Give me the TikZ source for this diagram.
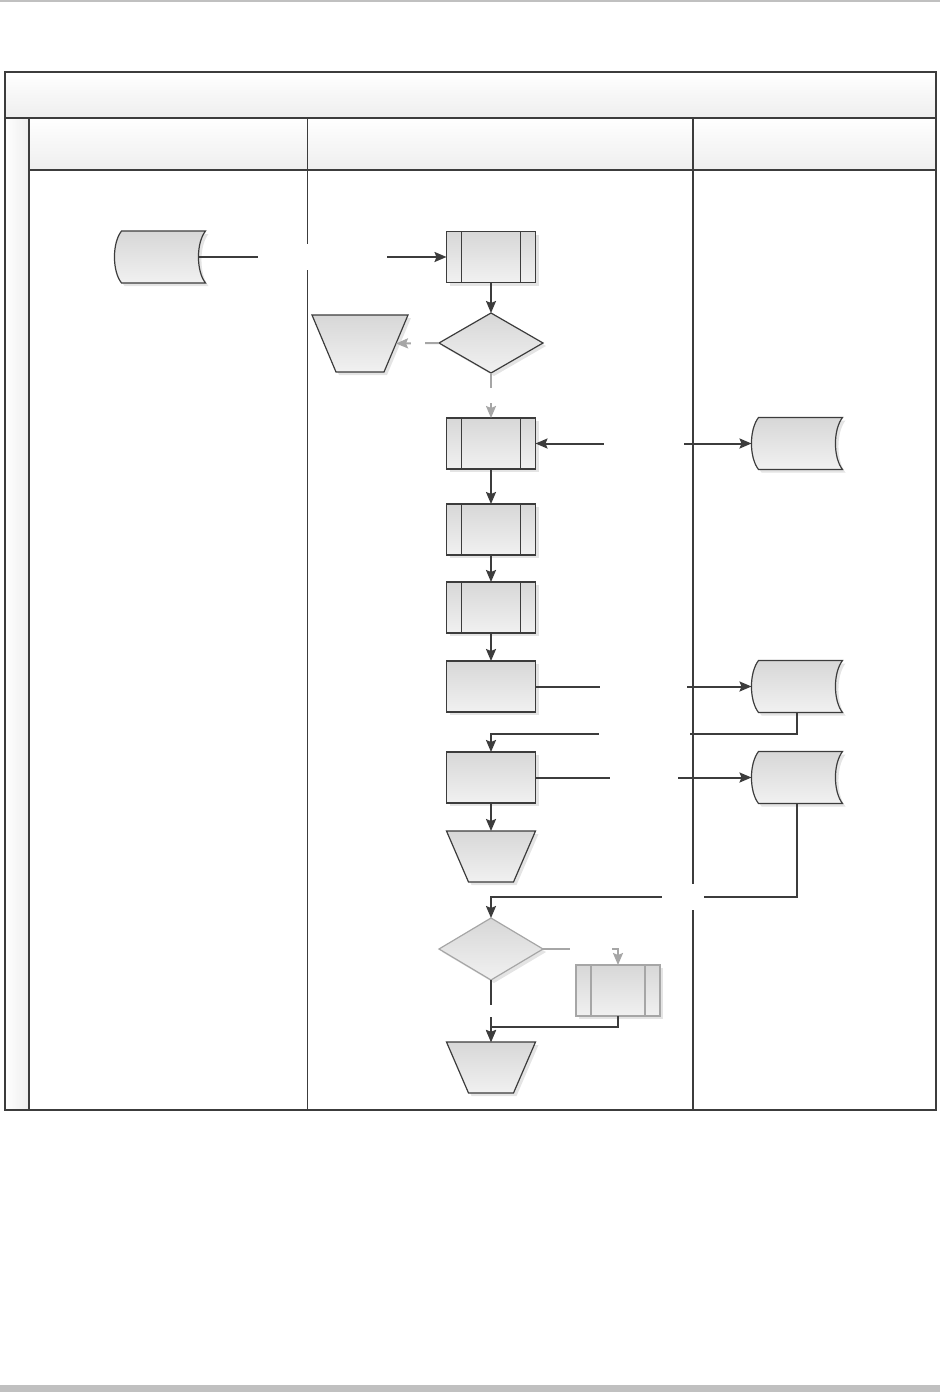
\documentclass[tikz,border=0pt]{standalone}
\usepackage{tikz}
\usetikzlibrary{shapes.geometric, arrows.meta, positioning, calc, shadows}

\definecolor{edgec}{HTML}{3C3C3C}
\definecolor{ghostc}{HTML}{A6A6A6}
\definecolor{filltop}{HTML}{D7D7D7}
\definecolor{fillbot}{HTML}{F1F1F1}
\definecolor{shadowc}{HTML}{E4E4E4}
\definecolor{headbot}{HTML}{EEEEEE}
\definecolor{rulec}{HTML}{C0C0C0}

\begin{document}
\begin{tikzpicture}[
    x=0.5pt, y=-0.5pt,
    >={Stealth[length=6pt, width=5pt, inset=1pt]},
    shaded/.style={draw=edgec, line width=0.6pt, top color=filltop, bottom color=fillbot, drop shadow={shadow xshift=1.5pt, shadow yshift=-1.5pt, fill=shadowc, opacity=1}},
    process/.style={rectangle, shaded, minimum width=44.5pt, minimum height=25.5pt, inner sep=0pt, outer sep=0pt},
    subproc/.style={process, draw=#1, path picture={
        \draw[#1, line width=0.6pt] ([xshift=7.5pt]path picture bounding box.north west) -- ([xshift=7.5pt]path picture bounding box.south west) ([xshift=-7.5pt]path picture bounding box.north east) -- ([xshift=-7.5pt]path picture bounding box.south east);}},
    subproc/.default=edgec,
    decision/.style={diamond, shaded, minimum width=52pt, minimum height=30pt, inner sep=0pt, outer sep=0pt},
    datastore/.style={rectangle, minimum width=45.5pt, minimum height=26pt, inner sep=0pt, outer sep=0pt, append after command={\pgfextra{\let\thisnode\tikzlastnode
        \draw[shaded] ([xshift=3.5pt]\thisnode.north west) -- (\thisnode.north east) .. controls +(-4.7pt,-6pt) and +(-4.7pt,6pt) .. (\thisnode.south east) -- ([xshift=3.5pt]\thisnode.south west) .. controls +(-4.7pt,6pt) and +(-4.7pt,-6pt) .. ([xshift=3.5pt]\thisnode.north west) -- cycle;}}},
    manual/.style={rectangle, minimum width=44.5pt, minimum height=25.5pt, inner sep=0pt, outer sep=0pt, append after command={\pgfextra{\let\thisnode\tikzlastnode
        \draw[shaded] (\thisnode.north west) -- (\thisnode.north east) -- ([xshift=-#1]\thisnode.south east) -- ([xshift=#1]\thisnode.south west) -- cycle;}}},
    manual/.default=11pt,
    gapbox/.style 2 args={fill=white, inner sep=0pt, minimum width=#1, minimum height=#2},
    line/.style={draw=edgec, ->, line width=1pt},
    ghostline/.style={line, draw=ghostc}
]
    \useasboundingbox (0,0) rectangle (940,1392);
    \draw[rulec, line width=1pt] (0,1) -- (940,1);
    \fill[rulec] (0,1385) rectangle (940,1392);

    % Pool and lanes
    \shade[top color=white, bottom color=headbot] (5,72) rectangle (936,118);
    \shade[top color=white, bottom color=headbot] (29,118) rectangle (936,170);
    \shade[left color=white, right color=headbot] (5,118) rectangle (29,1110);
    \draw[edgec, line width=1pt] (5,72) rectangle (936,1110);
    \draw[edgec, line width=1.2pt] (5,118) -- (936,118);
    \draw[edgec, line width=1.2pt] (29,170) -- (936,170);
    \draw[edgec, line width=0.8pt] (29,118) -- (29,1110);
    \draw[edgec, line width=0.5pt] (307,118) -- (307,1110);
    \draw[edgec, line width=1pt] (693,118) -- (693,1110);

    % Flow nodes
    \node [datastore] (src) at (160,257) {};
    \node [subproc] (sub1) at (491,257) {};
    \node [decision] (chk1) at (491,343) {};
    \node [manual=12pt, minimum width=48pt, minimum height=28.5pt] (stop1) at (360,343.5) {};
    \node [subproc] (sub2) at (491,443.5) {};
    \node [datastore] (rec1) at (797,443.5) {};
    \node [subproc, below=17.5pt of sub2] (sub3) {};
    \node [subproc, below=13.5pt of sub3] (sub4) {};
    \node [process, below=14pt of sub4] (act1) {};
    \node [datastore] (rec2) at (act1 -| rec1) {};
    \node [process, below=20pt of act1] (act2) {};
    \node [datastore] (rec3) at (act2 -| rec1) {};
    \node [manual, below=14pt of act2] (end1) {};
    \node [decision, draw=ghostc, minimum height=31pt] (chk2) at (491,949) {};
    \node [subproc=ghostc, minimum width=42pt] (sub5) at (618,990.5) {};
    \node [manual] (end2) at (491,1067.5) {};

    % Connecting lines
    \path [line] ([xshift=-3.5pt]src.east) -- node[gapbox={64.5pt}{13pt}] {} (sub1);
    \path [line] (sub1) -- (chk1);
    \path [ghostline] (chk1.west) -- node[gapbox={7pt}{7pt}] {} ([xshift=-6pt]stop1.east);
    \path [ghostline] (chk1) -- node[gapbox={10pt}{7.5pt}] {} (sub2);
    \path [line, <->] (sub2) -- node[gapbox={40pt}{8pt}] {} (rec1);
    \path [line] (sub2) -- (sub3);
    \path [line] (sub3) -- (sub4);
    \path [line] (sub4) -- (act1);
    \path [line] (act1) -- node[gapbox={43.5pt}{8pt}] {} (rec2);
    \path [line] (rec2.south) -- ++(0,21) -| node[pos=0.25, gapbox={45.5pt}{8pt}] {} (act2.north);
    \path [line] (act2) -- node[gapbox={34pt}{8pt}] {} (rec3);
    \path [line] (act2) -- (end1);
    \path [line] (rec3.south) -- ++(0,93) -| node[pos=0.186, gapbox={21pt}{13pt}] {} (chk2.north);
    \path [ghostline] (chk2.east) -| node[pos=0.318, gapbox={21pt}{7pt}] {} (sub5.north);
    \path [line] (chk2) -- node[gapbox={7pt}{6pt}] {} (end2);
    \path [line] (sub5.south) -- ++(0,10.5) -| (end2.north);
\end{tikzpicture}
\end{document}
